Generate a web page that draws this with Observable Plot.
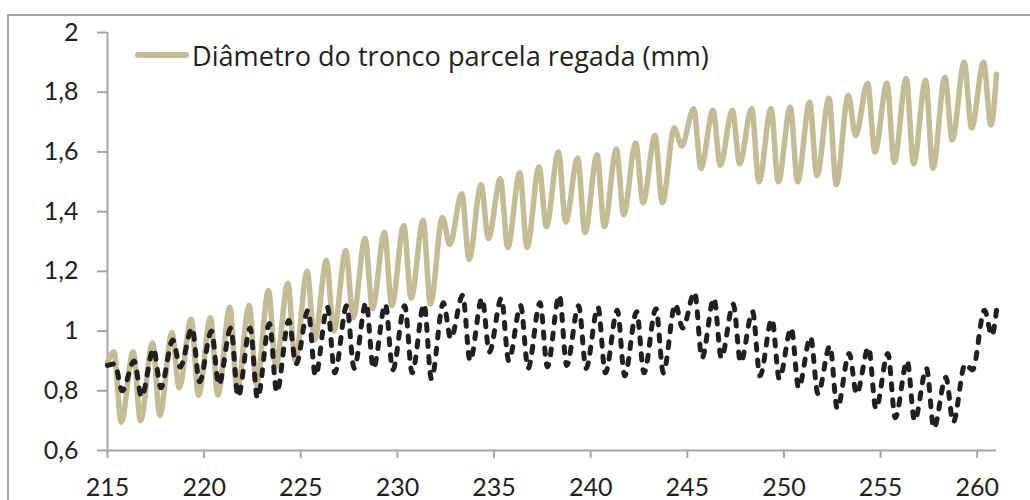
<!DOCTYPE html>
<html><head><meta charset="utf-8">
<script src="https://cdn.jsdelivr.net/npm/d3@7"></script>
<script src="https://cdn.jsdelivr.net/npm/@observablehq/plot@0.6"></script>
<style>
body{margin:0;background:#fff;overflow:hidden;font-family:Lato,sans-serif}
#wrap{position:relative;width:1030px;height:500px;overflow:hidden}
#frame{position:absolute;left:7px;top:14px;width:1100px;height:600px;border-top:2px solid #a6a6a6;border-left:2px solid #a6a6a6;pointer-events:none}
#chart{position:absolute;left:0;top:0}
#legend{position:absolute;left:135px;top:40px;height:30px;display:flex;align-items:center;font-family:"Open Sans",sans-serif;font-size:24px;color:#231f20;white-space:nowrap}
#legend .sw{width:54px;height:6px;background:#c4bc94;border-radius:3px;margin-right:3px}
</style></head><body>
<div id="wrap"><div id="frame"></div><div id="chart"></div>
<div id="legend"><span class="sw"></span><span id="ltext">Diâmetro do tronco parcela regada (mm)</span></div></div>
<script>
// Days of year (one daily cycle each)
const days = d3.range(215, 261);
// Irrigated plot trunk diameter (mm): daily maxima and minima
const irrigatedMax = [0.93,0.93,0.96,0.995,1.04,1.045,1.08,1.086,1.136,1.16,1.20,1.236,1.27,1.31,1.33,1.354,1.37,1.38,1.46,1.49,1.51,1.53,1.55,1.60,1.58,1.59,1.61,1.63,1.655,1.68,1.745,1.74,1.74,1.745,1.745,1.75,1.766,1.78,1.79,1.83,1.83,1.846,1.84,1.85,1.90,1.90];
const irrigatedMin = [0.695,0.70,0.717,0.81,0.785,0.785,0.80,0.82,0.88,0.90,0.97,1.00,1.045,1.075,1.085,1.11,1.09,1.29,1.24,1.31,1.28,1.28,1.35,1.365,1.33,1.35,1.39,1.43,1.43,1.62,1.545,1.555,1.56,1.50,1.50,1.50,1.52,1.49,1.655,1.60,1.565,1.56,1.545,1.64,1.68,1.69];
const irrigatedStart = 0.895, irrigatedEnd = 1.86;
// Second (dashed) series: daily maxima and minima
const otherMax = [0.89,0.90,0.94,0.97,1.01,1.00,1.01,1.01,1.025,1.035,1.07,1.08,1.085,1.095,1.09,1.085,1.09,1.095,1.12,1.11,1.11,1.085,1.095,1.12,1.085,1.08,1.07,1.065,1.075,1.09,1.13,1.11,1.09,1.065,1.04,1.01,0.98,0.95,0.925,0.945,0.925,0.90,0.875,0.845,0.89,1.07];
const otherMin = [0.80,0.78,0.81,0.88,0.83,0.82,0.78,0.775,0.795,0.89,0.85,0.86,0.875,0.875,0.87,0.86,0.84,0.975,0.90,0.93,0.90,0.875,0.88,0.885,0.875,0.86,0.85,0.86,0.86,1.01,0.91,0.91,0.895,0.85,0.84,0.81,0.79,0.74,0.79,0.74,0.71,0.70,0.675,0.695,0.87,0.985];
const otherStart = 0.885, otherEnd = 1.07;
// Axis ticks
const xTicks = [215,220,225,230,235,240,245,250,255,260];
const yTicks = [0.6,0.8,1,1.2,1.4,1.6,1.8,2];

function series(start, maxs, mins, end, pk, tr) {
  const out = [{t: days[0], v: start}];
  days.forEach((d, i) => { out.push({t: d + pk, v: maxs[i]}); out.push({t: d + tr, v: mins[i]}); });
  out.push({t: days[days.length - 1] + 1, v: end});
  return out;
}
const irrigated = series(irrigatedStart, irrigatedMax, irrigatedMin, irrigatedEnd, 0.33, 0.71);
const other = series(otherStart, otherMax, otherMin, otherEnd, 0.38, 0.76);

const fmt = d => String(d).replace(".", ",");
const chart = Plot.plot({
  width: 1030, height: 500,
  marginLeft: 107, marginRight: 34, marginTop: 32, marginBottom: 50,
  style: {fontFamily: "Lato, sans-serif", fontSize: "25px", background: "transparent", color: "#231f20", overflow: "visible"},
  x: {domain: [215, 261]},
  y: {domain: [0.6, 2]},
  marks: [
    Plot.axisY({ticks: yTicks, tickFormat: fmt, tickSize: 10, tickPadding: 19, stroke: "#a6a6a6", fill: "#231f20", strokeWidth: 2, label: null}),
    Plot.axisX({ticks: xTicks, tickFormat: d => String(d), tickSize: 8, tickPadding: 20, stroke: "#a6a6a6", fill: "#231f20", strokeWidth: 2, label: null}),
    Plot.ruleX([215], {stroke: "#a6a6a6", strokeWidth: 2}),
    Plot.ruleY([0.6], {stroke: "#a6a6a6", strokeWidth: 2}),
    Plot.line(irrigated, {x: "t", y: "v", stroke: "#c4bc94", strokeWidth: 5.5, curve: "monotone-x", strokeLinejoin: "round", strokeLinecap: "round"}),
    Plot.line(other, {x: "t", y: "v", stroke: "#231f20", strokeWidth: 5, curve: "monotone-x", strokeDasharray: "6,10", strokeLinecap: "round", strokeLinejoin: "round"})
  ]
});
document.getElementById("chart").append(chart);
// fit legend text to the reference width
const lt = document.getElementById("ltext");
const w = lt.getBoundingClientRect().width;
if (w > 0) lt.style.fontSize = (24 * 517 / w).toFixed(2) + "px";
</script>
</body></html>
